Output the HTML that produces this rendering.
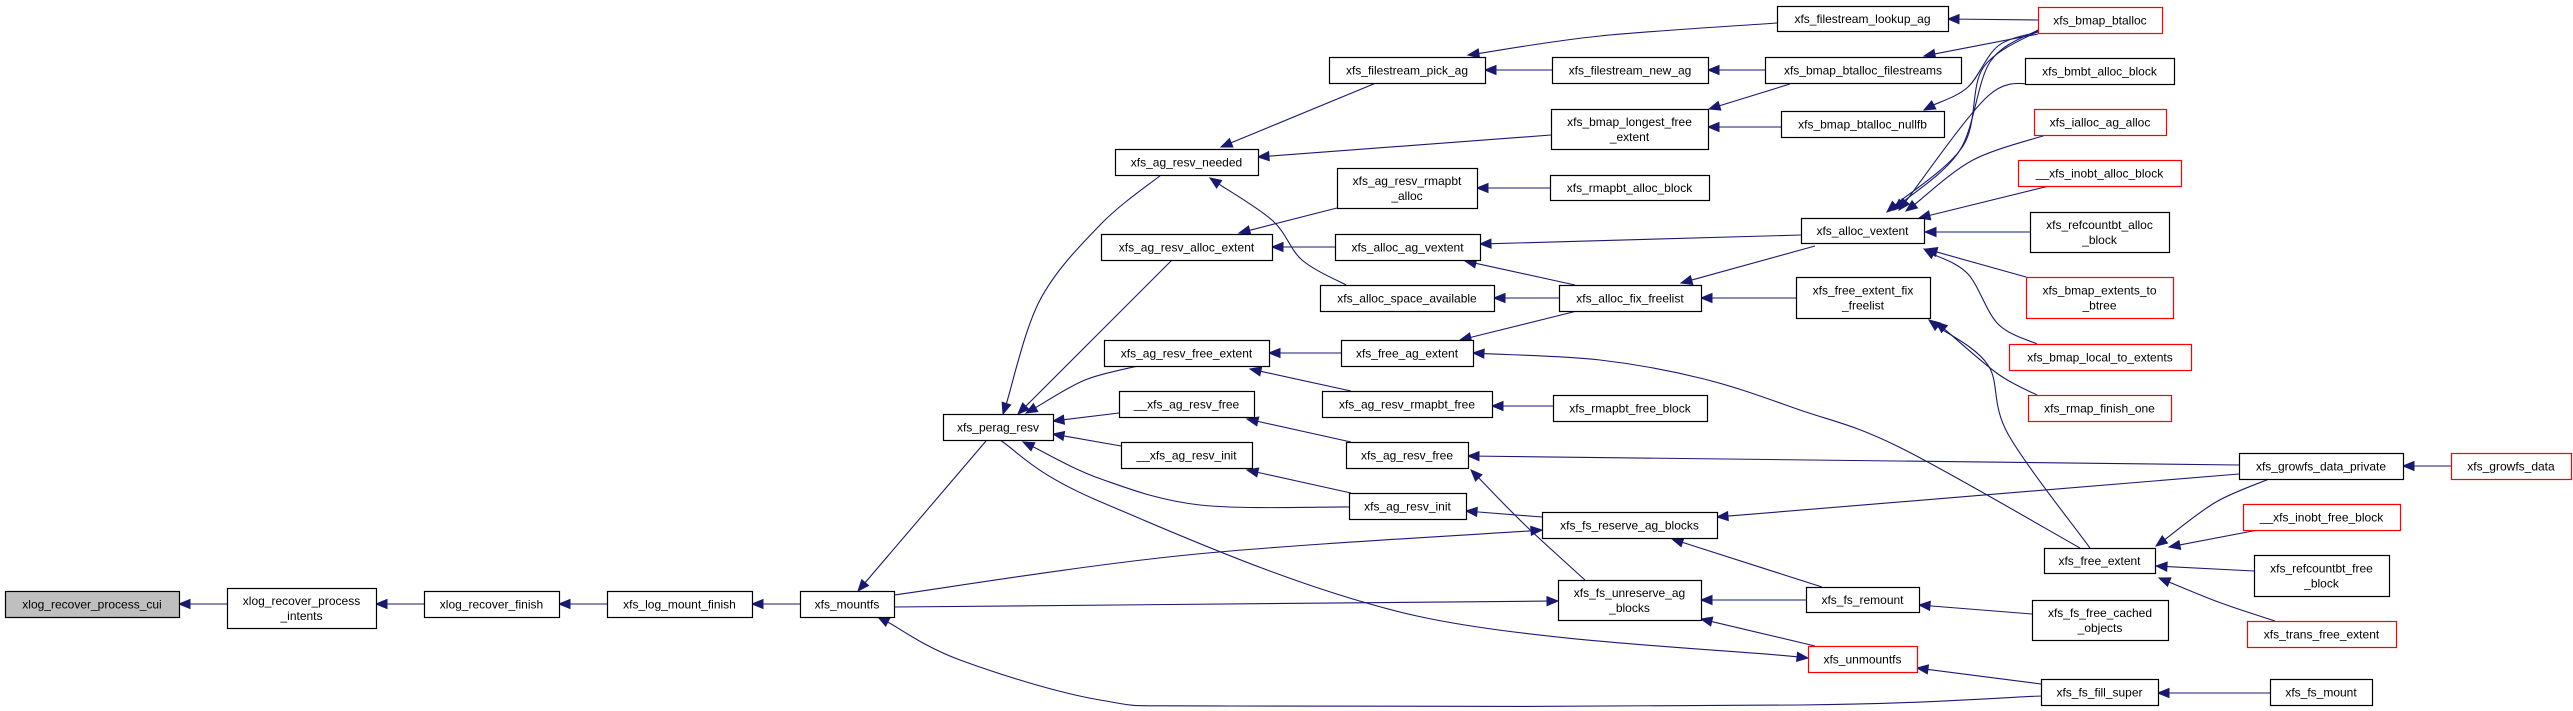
<!DOCTYPE html>
<html><head><meta charset="utf-8">
<style>
html,body{margin:0;padding:0;background:#fff;}
svg{display:block;}
text{font-family:"Liberation Sans",sans-serif;font-size:12px;fill:#000;}
</style></head>
<body>
<svg id="g" xmlns="http://www.w3.org/2000/svg" width="2573" height="711" viewBox="0 0 2573 711">
<rect width="2573" height="711" fill="#fff"/>
<g id="edges"></g>
<g id="nodes"></g>
</svg>
<script>
var N=[
[5,591,179,617,["xlog_recover_process_cui"],"g"],
[227,588,376,628,["xlog_recover_process","_intents"],""],
[424,591,559,617,["xlog_recover_finish"],""],
[607,591,752,617,["xfs_log_mount_finish"],""],
[800,591,894,617,["xfs_mountfs"],""],
[1329,57,1485,83,["xfs_filestream_pick_ag"],""],
[1552,57,1708,83,["xfs_filestream_new_ag"],""],
[1551,109,1708,149,["xfs_bmap_longest_free","_extent"],""],
[1115,149,1258,175,["xfs_ag_resv_needed"],""],
[1337,168,1477,208,["xfs_ag_resv_rmapbt","_alloc"],""],
[1550,175,1709,200,["xfs_rmapbt_alloc_block"],""],
[1101,234,1272,260,["xfs_ag_resv_alloc_extent"],""],
[1335,234,1480,260,["xfs_alloc_ag_vextent"],""],
[1320,285,1494,311,["xfs_alloc_space_available"],""],
[1559,285,1701,311,["xfs_alloc_fix_freelist"],""],
[1104,340,1269,366,["xfs_ag_resv_free_extent"],""],
[1341,340,1473,366,["xfs_free_ag_extent"],""],
[1119,391,1254,417,["__xfs_ag_resv_free"],""],
[1322,391,1492,417,["xfs_ag_resv_rmapbt_free"],""],
[1553,395,1707,421,["xfs_rmapbt_free_block"],""],
[943,414,1053,440,["xfs_perag_resv"],""],
[1121,442,1252,468,["__xfs_ag_resv_init"],""],
[1346,442,1468,468,["xfs_ag_resv_free"],""],
[1349,493,1466,519,["xfs_ag_resv_init"],""],
[1542,512,1717,538,["xfs_fs_reserve_ag_blocks"],""],
[1558,580,1701,620,["xfs_fs_unreserve_ag","_blocks"],""],
[1777,6,1948,31,["xfs_filestream_lookup_ag"],""],
[2038,7,2162,33,["xfs_bmap_btalloc"],"r"],
[1765,57,1961,83,["xfs_bmap_btalloc_filestreams"],""],
[1781,111,1944,137,["xfs_bmap_btalloc_nullfb"],""],
[2025,58,2174,84,["xfs_bmbt_alloc_block"],""],
[2034,109,2166,135,["xfs_ialloc_ag_alloc"],"r"],
[2018,160,2181,186,["__xfs_inobt_alloc_block"],"r"],
[1801,218,1924,243,["xfs_alloc_vextent"],""],
[2030,212,2169,252,["xfs_refcountbt_alloc","_block"],""],
[1796,277,1930,318,["xfs_free_extent_fix","_freelist"],""],
[2026,277,2173,318,["xfs_bmap_extents_to","_btree"],"r"],
[2009,344,2191,370,["xfs_bmap_local_to_extents"],"r"],
[2028,395,2171,421,["xfs_rmap_finish_one"],"r"],
[2239,453,2403,479,["xfs_growfs_data_private"],""],
[2451,453,2571,479,["xfs_growfs_data"],"r"],
[2243,504,2400,530,["__xfs_inobt_free_block"],"r"],
[2044,548,2155,573,["xfs_free_extent"],""],
[2254,555,2389,596,["xfs_refcountbt_free","_block"],""],
[1806,587,1919,612,["xfs_fs_remount"],""],
[2032,600,2168,640,["xfs_fs_free_cached","_objects"],""],
[2247,621,2396,647,["xfs_trans_free_extent"],"r"],
[1808,646,1917,672,["xfs_unmountfs"],"r"],
[2041,679,2158,705,["xfs_fs_fill_super"],""],
[2270,679,2372,705,["xfs_fs_mount"],""]
];
var E=[
[[179,604],[227,604]],
[[376,604],[424,604]],
[[559,604],[607,604]],
[[752,604],[800,604]],
[[858,591],[986,441]],
[[1542,530],[1187,555],[894,595]],
[[1558,601],[894,607]],
[[878,617],[960,660],[1100,700],[1230,706],[1800,705],[2041,696]],
[[1808,658],[1417,616],[1101,502],[1000,440]],
[[1003,414],[1040,300],[1101,224],[1161,175]],
[[1018,414],[1172,260]],
[[1026,413],[1085,380],[1138,366]],
[[1053,421],[1119,413]],
[[1053,434],[1121,446]],
[[1023,442],[1101,479],[1200,505],[1349,507]],
[[1221,147],[1376,83]],
[[1258,157],[1551,135]],
[[1210,178],[1273,221],[1302,260],[1346,285]],
[[1239,233],[1337,208]],
[[1272,247],[1335,247]],
[[1465,261],[1575,285]],
[[1494,298],[1559,298]],
[[1477,188],[1550,188]],
[[1468,55],[1600,36],[1777,23]],
[[1485,70],[1552,70]],
[[1708,70],[1765,70]],
[[1709,109],[1790,84]],
[[1708,127],[1781,127]],
[[1948,19],[2038,20]],
[[1924,56],[2038,34]],
[[1924,110],[1968,87],[1998,46],[2038,32]],
[[1887,212],[1963,146],[1983,68],[2038,31]],
[[1894,210],[1960,150],[1990,62],[2038,30]],
[[1899,210],[1988,96],[2035,84]],
[[1906,211],[1973,160],[2046,135]],
[[1919,218],[2049,186]],
[[1925,232],[2030,232]],
[[1926,249],[2026,277]],
[[1924,249],[1968,274],[1998,324],[2037,344]],
[[1480,244],[1801,235]],
[[1681,283],[1815,246]],
[[1701,298],[1796,298]],
[[1460,340],[1577,311]],
[[1473,353],[1600,360],[1704,379],[1800,410],[1899,447],[2080,548]],
[[1269,353],[1341,353]],
[[1250,369],[1351,391]],
[[1492,406],[1553,406]],
[[1247,419],[1351,442]],
[[1247,470],[1351,493]],
[[1468,456],[2239,465]],
[[1471,470],[1525,525],[1585,580]],
[[1466,511],[1542,517]],
[[1717,517],[2239,474]],
[[1672,539],[1822,587]],
[[1701,600],[1806,600]],
[[1701,619],[1815,646]],
[[1919,605],[2032,614]],
[[1917,668],[2041,684]],
[[2158,693],[2270,693]],
[[1929,320],[1988,365],[2008,434],[2090,548]],
[[1936,322],[1998,374],[2037,395]],
[[2403,466],[2451,466]],
[[2156,546],[2216,502],[2269,479]],
[[2169,547],[2258,530]],
[[2156,566],[2254,571]],
[[2159,578],[2221,603],[2275,621]]
];
var NS="http://www.w3.org/2000/svg";
var eg=document.getElementById("edges"),ng=document.getElementById("nodes");
function el(t,a,p){var e=document.createElementNS(NS,t);for(var k in a)e.setAttribute(k,a[k]);p.appendChild(e);return e;}
E.forEach(function(P){
  var t=P[0],n=P[1],dx=t[0]-n[0],dy=t[1]-n[1],L=Math.sqrt(dx*dx+dy*dy);dx/=L;dy/=L;
  var al=11,aw=4.5;
  var bx=t[0]-dx*al,by=t[1]-dy*al;
  var pts=P.slice();pts[0]=[bx,by];
  var d="M"+pts[0][0]+","+pts[0][1];
  if(pts.length==2){d+=" L"+pts[1][0]+","+pts[1][1];}
  else{
    for(var i=0;i<pts.length-1;i++){
      var p0=pts[Math.max(0,i-1)],p1=pts[i],p2=pts[i+1],p3=pts[Math.min(pts.length-1,i+2)];
      var c1=[p1[0]+(p2[0]-p0[0])/6,p1[1]+(p2[1]-p0[1])/6];
      var c2=[p2[0]-(p3[0]-p1[0])/6,p2[1]-(p3[1]-p1[1])/6];
      d+=" C"+c1[0]+","+c1[1]+" "+c2[0]+","+c2[1]+" "+p2[0]+","+p2[1];
    }
  }
  el("path",{d:d,fill:"none",stroke:"#191970","stroke-width":"1.1"},eg);
  el("polygon",{points:t[0]+","+t[1]+" "+(bx-dy*aw)+","+(by+dx*aw)+" "+(bx+dy*aw)+","+(by-dx*aw),fill:"#191970",stroke:"#191970"},eg);
});
N.forEach(function(n){
  var fill=n[5]=="g"?"#bfbfbf":"#fff",st=n[5]=="r"?"#ff0000":"#000";
  el("rect",{x:n[0]+0.5,y:n[1]+0.5,width:n[2]-n[0],height:n[3]-n[1],fill:fill,stroke:st,"stroke-width":"1.2"},ng);
  var cx=(n[0]+n[2])/2,cy=(n[1]+n[3])/2,L=n[4];
  L.forEach(function(s,i){
    var y=cy+4.5+(i-(L.length-1)/2)*15;
    var t=el("text",{x:cx,y:y,"text-anchor":"middle"},ng);t.textContent=s;
  });
});
</script>
</body></html>
